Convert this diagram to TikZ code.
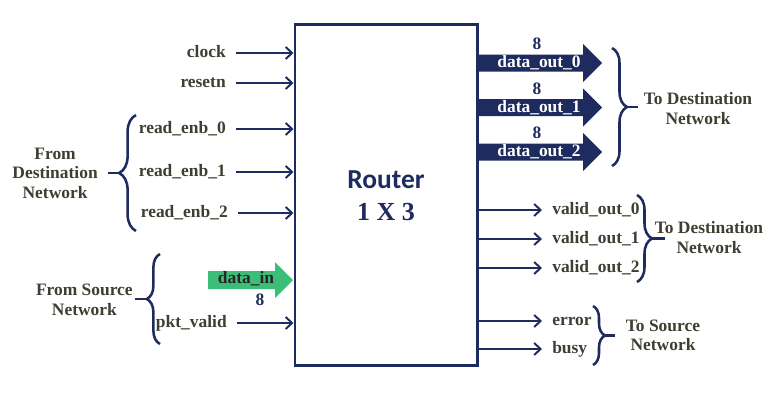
\documentclass[tikz,border=0pt]{standalone}
\usepackage{fontspec}
\setmainfont{Liberation Serif}
\newfontfamily\routerfont{Carlito}
\usetikzlibrary{arrows.meta,decorations.pathreplacing}

\definecolor{navy}{RGB}{30,43,94}
\definecolor{labelgray}{RGB}{62,62,50}
\definecolor{busgreen}{RGB}{60,190,120}

\newcommand\lblfont{\bfseries\fontsize{12.4}{13.9}\selectfont}

\tikzset{
	sig/.style={navy, line width=1.4pt, -{Straight Barb[length=1.6mm,width=3mm]}},
	lbl/.style={text=labelgray, font=\lblfont, text height=1.7ex, text depth=.45ex, inner ysep=0pt, inner xsep=0.25cm},
	buslbl/.style={font=\lblfont, text height=1.4ex, text depth=.3ex, inner sep=0pt},
	grp/.style={text=labelgray, font=\lblfont, align=center, inner sep=0pt},
	buswidth/.style={text=navy, font=\lblfont, inner sep=0pt},
	curly/.style={navy, line width=1.8pt, decorate, decoration={brace, amplitude=#1}},
	tail/.style={navy, line width=1.8pt}
}

\begin{document}
\begin{tikzpicture}[x=0.025cm, y=-0.025cm]
		\useasboundingbox (0,0) rectangle (780,402);
		
		% Define router block
		\node[draw=navy, line width=2.1pt, minimum width=4.55cm, minimum height=8.5cm] (Router) at (386,195) {};
		\node[text=navy, font=\routerfont\bfseries\fontsize{19.5}{22}\selectfont] (RouterName) at (386,180) {Router};
		\node[text=navy, font=\bfseries\fontsize{18.5}{22}\selectfont] (RouterSize) at (386,212) {1 X 3};
		
		% Define clock resetn
		\node[lbl, anchor=east] (Clock) at (236,53) {clock};
		\node[lbl, anchor=east] (Resetn) at (236,83) {resetn};
		
		\draw[sig] (Clock) -- (Clock -| Router.west);
		\draw[sig] (Resetn) -- (Resetn -| Router.west);
		
		% Define read enables
		\node[lbl, anchor=east] (ReadEnb0) at (236,129) {read\_enb\_0};
		\node[lbl, anchor=east] (ReadEnb1) at (236,172) {read\_enb\_1};
		\node[lbl, anchor=east] (ReadEnb2) at (238,213) {read\_enb\_2};
		
		\draw[sig] (ReadEnb0) -- (ReadEnb0 -| Router.west);
		\draw[sig] (ReadEnb1) -- (ReadEnb1 -| Router.west);
		\draw[sig] (ReadEnb2) -- (ReadEnb2 -| Router.west);
		
		% Define from destination network
		\draw[curly=0.42cm] (136,231) -- (136,115);
		\coordinate (DestInTip) at (119,173);
		\coordinate (DestInTail) at (108,173);
		\node[grp, anchor=east] (FromDest) at (98,173) {From\\Destination\\Network};
		
		\draw[tail] (DestInTail) -- (DestInTip);
		
		% Define data in pkt valid
		\fill[busgreen] (208,271) -- (275,271) -- (275,262) -- (293,280) -- (275,298) -- (275,289) -- (208,289) -- cycle;
		\node[buslbl, text=black!85] (DataIn) at (246,280) {data\_in};
		\node[buswidth] (DataInWidth) at (260,300) {8};
		\node[lbl, anchor=east] (PktValid) at (237,323) {pkt\_valid};
		
		\draw[sig] (PktValid) -- (PktValid -| Router.west);
		
		% Define from source network
		\draw[curly=0.33cm] (160,344) -- (160,254);
		\coordinate (SrcInTip) at (147,299);
		\coordinate (SrcInTail) at (135,299);
		\node[grp, anchor=east] (FromSrc) at (133,300) {From Source\\Network};
		
		\draw[tail] (SrcInTail) -- (SrcInTip);
		
		% Define data out 0 1 2
		\fill[navy] (477,54.5) -- (583,54.5) -- (583,44) -- (602,63) -- (583,82) -- (583,71.5) -- (477,71.5) -- cycle;
		\node[buslbl, text=white] (DataOut0) at (539,64) {data\_out\_0};
		\node[buswidth] (DataOut0Width) at (537,44) {8};
		
		\fill[navy] (477,99) -- (583,99) -- (583,88.5) -- (602,107.5) -- (583,126.5) -- (583,116) -- (477,116) -- cycle;
		\node[buslbl, text=white] (DataOut1) at (539,108.5) {data\_out\_1};
		\node[buswidth] (DataOut1Width) at (537,88.5) {8};
		
		\fill[navy] (477,143.5) -- (583,143.5) -- (583,133) -- (602,152) -- (583,171) -- (583,160.5) -- (477,160.5) -- cycle;
		\node[buslbl, text=white] (DataOut2) at (539,153) {data\_out\_2};
		\node[buswidth] (DataOut2Width) at (537,132.5) {8};
		
		% Define to destination network (data)
		\draw[curly=0.375cm] (612,48) -- (612,166);
		\coordinate (DestOutTip) at (627,107);
		\coordinate (DestOutTail) at (638,107);
		\node[grp] (ToDestData) at (698,108.5) {To Destination\\Network};
		
		\draw[tail] (DestOutTip) -- (DestOutTail);
		
		% Define valid out 0 1 2
		\node[lbl, anchor=west] (ValidOut0) at (542,210) {valid\_out\_0};
		\node[lbl, anchor=west] (ValidOut1) at (542,239) {valid\_out\_1};
		\node[lbl, anchor=west] (ValidOut2) at (542,268) {valid\_out\_2};
		
		\draw[sig] (Router.east |- ValidOut0) -- (ValidOut0);
		\draw[sig] (Router.east |- ValidOut1) -- (ValidOut1);
		\draw[sig] (Router.east |- ValidOut2) -- (ValidOut2);
		
		% Define to destination network (valid)
		\draw[curly=0.375cm] (637,195) -- (637,282);
		\coordinate (DestValidTip) at (652,238.5);
		\coordinate (DestValidTail) at (665,238.5);
		\node[grp] (ToDestValid) at (709,237.5) {To Destination\\Network};
		
		\draw[tail] (DestValidTip) -- (DestValidTail);
		
		% Define error busy
		\node[lbl, anchor=west] (Error) at (542,321) {error};
		\node[lbl, anchor=west] (Busy) at (542,349) {busy};
		
		\draw[sig] (Router.east |- Error) -- (Error);
		\draw[sig] (Router.east |- Busy) -- (Busy);
		
		% Define to source network
		\draw[curly=0.3cm] (593,306) -- (593,365);
		\coordinate (SrcOutTip) at (605,335.5);
		\coordinate (SrcOutTail) at (615,335.5);
		\node[grp] (ToSrc) at (663,335.5) {To Source\\Network};
		
		\draw[tail] (SrcOutTip) -- (SrcOutTail);
	\end{tikzpicture}
\end{document}
